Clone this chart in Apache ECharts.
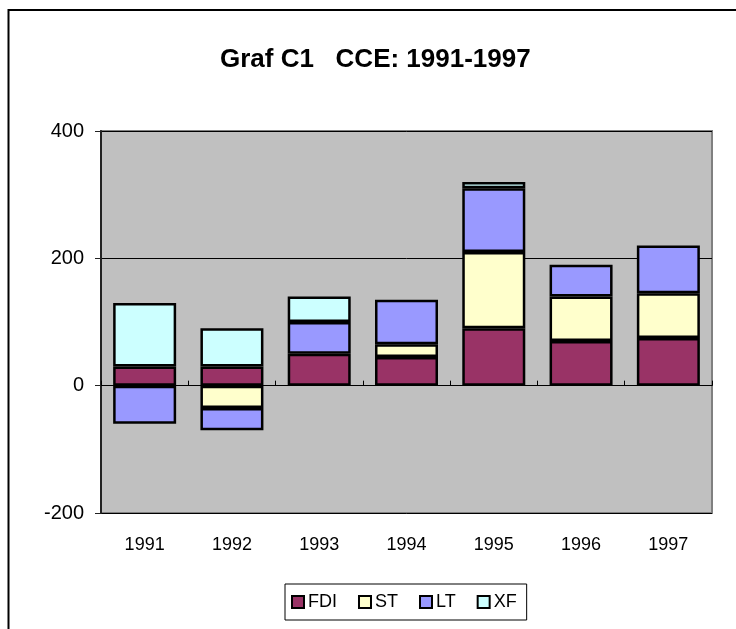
<!DOCTYPE html>
<html>
<head>
<meta charset="utf-8">
<script src="https://cdn.jsdelivr.net/npm/echarts@6/dist/echarts.min.js"></script>
<style>
  html, body { margin: 0; padding: 0; background: #fff; }
  #chart { width: 736px; height: 629px; }
</style>
</head>
<body>
<div id="chart"></div>
<script>
var years = ['1991', '1992', '1993', '1994', '1995', '1996', '1997']
var fdi = [30, 30, 50, 45, 90, 70, 75]
var st = [0, -35, 0, 20, 120, 70, 70]
var lt = [-60, -35, 50, 70, 100, 50, 75]
var xf = [100, 60, 40, 0, 10, 0, 0]
var yTicks = [-200, 0, 200, 400]

var colors = { FDI: '#993366', ST: '#FFFFCC', LT: '#9999FF', XF: '#CCFFFF' }
var font = 'Liberation Sans, Arial, sans-serif'

function makeSeries (name, values) {
  return {
    name: name,
    type: 'bar',
    stack: 'total',
    xAxisIndex: 0,
    barWidth: 63,
    // zero parts are not drawn
    data: values.map(function (v) { return v === 0 ? '-' : v }),
    itemStyle: {
      color: colors[name],
      borderColor: '#000',
      borderWidth: 2.5
    }
  }
}

var myChart = echarts.init(document.getElementById('chart'))
var option = {
  animation: false,
  backgroundColor: '#fff',
  title: {
    text: 'Graf C1   CCE: 1991-1997',
    left: 215,
    top: 42,
    textStyle: { fontFamily: font, fontSize: 26, fontWeight: 'bold', color: '#000' }
  },
  graphic: [{
    type: 'rect',
    shape: { x: 8.5, y: 10, width: 800, height: 700 },
    style: { fill: 'none', stroke: '#000', lineWidth: 2 },
    silent: true
  }],
  legend: {
    left: 285,
    top: 584,
    itemWidth: 12,
    itemHeight: 12,
    itemGap: 21,
    padding: [9, 10, 9, 6],
    borderColor: '#000',
    borderWidth: 1,
    icon: 'rect',
    textStyle: { fontFamily: font, fontSize: 18, color: '#000', padding: [0, 0, 0, -1] },
    data: ['FDI', 'ST', 'LT', 'XF']
  },
  grid: {
    left: 101,
    right: 24,
    top: 131,
    bottom: 116,
    show: true,
    backgroundColor: '#C0C0C0',
    borderColor: '#808080',
    borderWidth: 2
  },
  xAxis: [{
    type: 'category',
    data: years,
    axisLine: { show: false, onZero: false },
    axisTick: { show: false },
    axisLabel: { fontFamily: font, fontSize: 18, color: '#000', margin: 23 }
  }, {
    type: 'category',
    data: years,
    axisLine: { onZero: true, lineStyle: { color: '#000', width: 1 } },
    axisTick: { show: true, length: 5, lineStyle: { color: '#000' } },
    axisLabel: { show: false }
  }],
  yAxis: {
    type: 'value',
    min: yTicks[0],
    max: yTicks[yTicks.length - 1],
    interval: 200,
    axisLine: { show: true, lineStyle: { color: '#222', width: 2 } },
    axisTick: { show: true, length: 6, lineStyle: { color: '#222' } },
    axisLabel: { fontFamily: font, fontSize: 20, color: '#000', margin: 17 },
    splitLine: { show: true, lineStyle: { color: '#000', width: 1 } }
  },
  series: [
    makeSeries('FDI', fdi),
    makeSeries('ST', st),
    makeSeries('LT', lt),
    makeSeries('XF', xf)
  ]
}
myChart.setOption(option)
</script>
</body>
</html>
